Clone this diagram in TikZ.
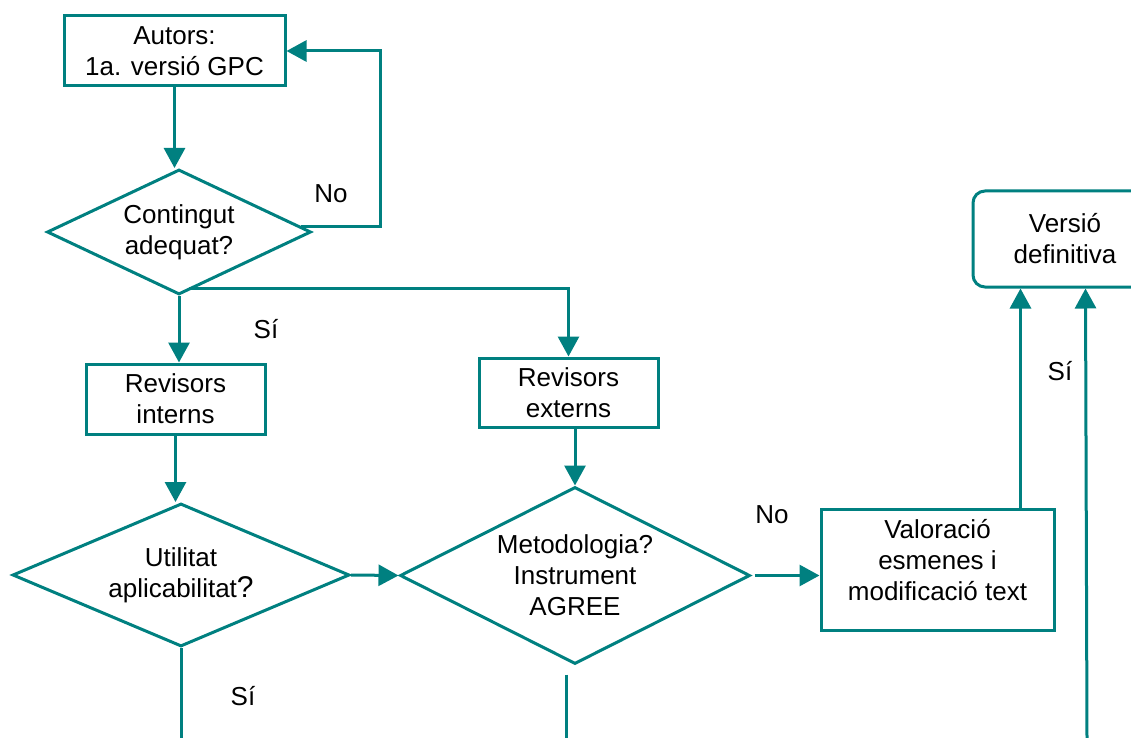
\documentclass[tikz,border=0pt]{standalone}
\usepackage{fontspec}
\setmainfont{Liberation Sans}
\usetikzlibrary{shapes.geometric,arrows.meta,calc}
\definecolor{tealc}{RGB}{0,128,128}
\begin{document}
\begin{tikzpicture}[x=0.5pt,y=-0.5pt,
  every node/.style={font=\fontsize{13pt}{15.5pt}\selectfont, text=black},
  box/.style={draw=tealc, line width=1.5pt, rectangle, align=center, inner sep=0pt},
  dia/.style={draw=tealc, line width=1.5pt, diamond, align=center, inner sep=0pt},
  arr/.style={draw=tealc, line width=1.5pt, -{Triangle[length=10pt,width=10.5pt]}},
  ln/.style={draw=tealc, line width=1.5pt},
  lbl/.style={anchor=base}
]
\useasboundingbox (0,0) rectangle (1131,738);
\clip (0,0) rectangle (1131,738);

% nodes
\node[box, minimum width=110.5pt, minimum height=35pt] (aut) at (174.5,51) {Autors:\\1a. versió GPC};
\node[dia, aspect=2.11, minimum width=132pt, minimum height=62.5pt] (d1) at (179,232) {Contingut\\adequat?};
\node[box, minimum width=89.5pt, minimum height=35pt] (ri) at (175.5,399) {Revisors\\interns};
\node[box, minimum width=89.5pt, minimum height=34.5pt] (re) at (568.5,392.5) {Revisors\\externs};
\node[dia, aspect=2.36, minimum width=168.5pt, minimum height=71.5pt] (d2) at (181,575) {Utilitat\\aplicabilitat{\fontsize{15pt}{15pt}\selectfont ?}};
\node[dia, aspect=1.98, minimum width=175pt, minimum height=88.5pt] (d3) at (575,575.5) {Metodologia?\\Instrument\\AGREE};
\node[box, minimum width=116.5pt, minimum height=60.5pt, text depth=10pt] (val) at (937.5,569.5) {Valoració\\esmenes i\\modificació text};
\node[box, rounded corners=6pt, minimum width=92pt, minimum height=48pt] (ver) at (1065,239) {Versió\\definitiva};

% labels
\node[lbl] (no1) at (331,203) {No};
\node[lbl] (si1) at (266,338) {Sí};
\node[lbl] (si2) at (243,705) {Sí};
\node[lbl] (no2) at (772,523) {No};
\node[lbl] (si3) at (1060,380) {Sí};

% free ends
\coordinate (e1) at (181,738);
\coordinate (e2) at (566,738);
\coordinate (e3) at (1087,738);
\coordinate (v1) at ($(ver.south west)+(49,0)$);
\coordinate (v2) at ($(ver.south west)+(114,0)$);

% connectors
\draw[arr] (aut.south) -- (aut.south |- d1.north);
\draw[arr] ($(d1.east)+(-12,-5)$) -- ++(80,0) |- (aut.east);
\draw[arr] (d1.south) -- (d1.south |- ri.north);
\draw[arr] ($(d1.south)+(10,-8)$) -| (re.north);
\draw[arr] (ri.south) -- (ri.south |- d2.north);
\draw[ln] (d2.south) -- (e1);
\draw[arr] (d2.east) -- (d3.west);
\draw[arr] (d3.north |- re.south) -- (d3.north);
\draw[ln] ($(d3.south)+(-9,9)$) -- (e2);
\draw[arr] ($(d3.east)+(3,0)$) -- (d3.east -| val.west);
\draw[arr] (val.north -| v1) -- (v1);
\draw[arr] (e3) -- (v2);
\end{tikzpicture}
\end{document}
